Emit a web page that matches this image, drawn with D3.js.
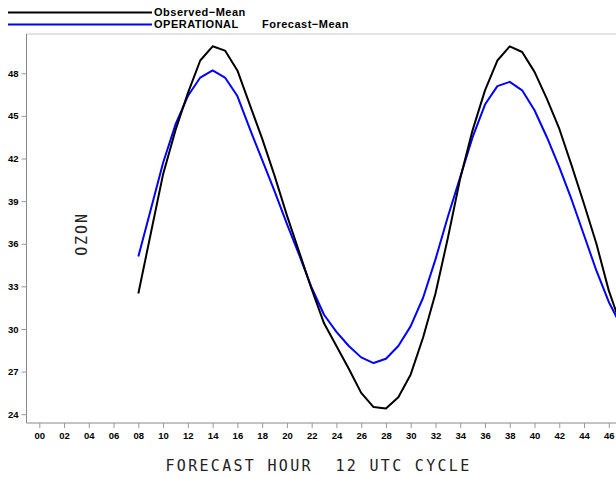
<!DOCTYPE html>
<html>
<head>
<meta charset="utf-8">
<script src="https://cdn.jsdelivr.net/npm/d3@7"></script>
<style>
  html, body { margin: 0; padding: 0; background: #fff; }
  svg { display: block; }
</style>
</head>
<body>
<svg id="chart" width="616" height="477"></svg>
<script>
// ---- data ----
const hours = [8,9,10,11,12,13,14,15,16,17,18,19,20,21,22,23,24,25,26,27,28,29,30,31,32,33,34,35,36,37,38,39,40,41,42,43,44,45,46,47,48];
const observedMean = [32.5,36.7,40.9,44.0,46.6,48.9,49.9,49.6,48.2,45.8,43.4,40.8,38.0,35.4,32.8,30.4,28.8,27.2,25.5,24.5,24.4,25.2,26.8,29.4,32.5,36.4,40.6,44.0,46.8,48.9,49.9,49.5,48.1,46.2,44.1,41.5,38.8,36.0,32.7,30.2,28.3];
const forecastMean = [35.1,38.4,41.7,44.4,46.4,47.7,48.2,47.7,46.4,44.1,41.9,39.7,37.4,35.2,32.9,31.0,29.8,28.8,28.0,27.6,27.9,28.8,30.2,32.2,34.9,37.9,40.7,43.5,45.8,47.1,47.4,46.8,45.4,43.5,41.4,39.1,36.6,34.1,31.9,30.2,28.9];
const xTicks = [0,2,4,6,8,10,12,14,16,18,20,22,24,26,28,30,32,34,36,38,40,42,44,46];
const yTicks = [24,27,30,33,36,39,42,45,48];
const legendModel = ["", "OPERATIONAL"];
const legendLabels = ["Observed\u2212Mean", "Forecast\u2212Mean"];
const xTitle = "FORECAST HOUR  12 UTC CYCLE";
const yTitle = "OZON";

// ---- layout ----
const svg = d3.select("#chart");
const plot = { left: 26.5, right: 616, top: 34, bottom: 423 };
const x = d3.scaleLinear().domain([0, 46]).range([39.3, 608.8]);
const y = d3.scaleLinear().domain([24, 48]).range([414.2, 73.3]);

svg.append("defs").append("clipPath").attr("id", "clip")
  .append("rect").attr("x", plot.left).attr("y", plot.top)
  .attr("width", plot.right - plot.left).attr("height", plot.bottom - plot.top);

// frame
svg.append("line").attr("x1", plot.left).attr("x2", plot.right)
  .attr("y1", plot.top).attr("y2", plot.top)
  .attr("stroke", "#c8c8c8").attr("stroke-width", 1);
svg.append("line").attr("x1", plot.left).attr("x2", plot.left)
  .attr("y1", plot.top).attr("y2", plot.bottom)
  .attr("stroke", "#888").attr("stroke-width", 1);
svg.append("line").attr("x1", plot.left).attr("x2", plot.right)
  .attr("y1", plot.bottom).attr("y2", plot.bottom)
  .attr("stroke", "#888").attr("stroke-width", 1);

// axes
const yAxis = svg.append("g").attr("transform", `translate(${plot.left},0)`)
  .call(d3.axisLeft(y).tickValues(yTicks).tickSize(5).tickPadding(3).tickFormat(d3.format("d")));
const xAxis = svg.append("g").attr("transform", `translate(0,${plot.bottom})`)
  .call(d3.axisBottom(x).tickValues(xTicks).tickSize(5).tickPadding(4).tickFormat(d => String(d).padStart(2, "0")));
[xAxis, yAxis].forEach(g => {
  g.select(".domain").remove();
  g.selectAll(".tick line").attr("stroke", "#999");
  g.selectAll(".tick text").attr("fill", "#000")
    .style("font-family", "'Liberation Sans', Arial, sans-serif")
    .style("font-weight", "bold").style("font-size", "9.5px");
});

// lines
const line = d3.line().x((d, i) => x(hours[i])).y(d => y(d));
const g = svg.append("g").attr("clip-path", "url(#clip)");
g.append("path").datum(forecastMean).attr("d", line)
  .attr("fill", "none").attr("stroke", "#0000ff").attr("stroke-width", 2).attr("stroke-linejoin", "round");
g.append("path").datum(observedMean).attr("d", line)
  .attr("fill", "none").attr("stroke", "#000").attr("stroke-width", 2).attr("stroke-linejoin", "round");

// legend
const legendColors = ["#000", "#0000ff"];
const legendY = [12.5, 24.5];
const legendFont = sel => sel
  .style("font-family", "'Liberation Sans', Arial, sans-serif")
  .style("font-weight", "bold").style("font-size", "11px")
  .style("letter-spacing", "0.5px").attr("fill", "#000");
legendLabels.forEach((lab, i) => {
  svg.append("line").attr("x1", 8).attr("x2", 152)
    .attr("y1", legendY[i]).attr("y2", legendY[i])
    .attr("stroke", legendColors[i]).attr("stroke-width", 2);
  if (legendModel[i]) {
    svg.append("text").attr("x", 154).attr("y", legendY[i] + 3.8)
      .call(legendFont).text(legendModel[i]);
    svg.append("text").attr("x", 262).attr("y", legendY[i] + 3.8)
      .call(legendFont).text(lab);
  } else {
    svg.append("text").attr("x", 154).attr("y", legendY[i] + 3.8)
      .call(legendFont).text(lab);
  }
});

// titles
svg.append("text").attr("x", 318.5).attr("y", 471)
  .attr("text-anchor", "middle").style("white-space", "pre")
  .style("font-family", "'DejaVu Sans Mono', monospace")
  .style("font-size", "15px").style("letter-spacing", "2.3px")
  .attr("fill", "#222").text(xTitle);
svg.append("text")
  .attr("transform", "translate(86.5,234) rotate(-90)")
  .attr("text-anchor", "middle")
  .style("font-family", "'DejaVu Sans Mono', monospace")
  .style("font-size", "15px").style("letter-spacing", "1.9px")
  .attr("fill", "#222").text(yTitle);
</script>
</body>
</html>
